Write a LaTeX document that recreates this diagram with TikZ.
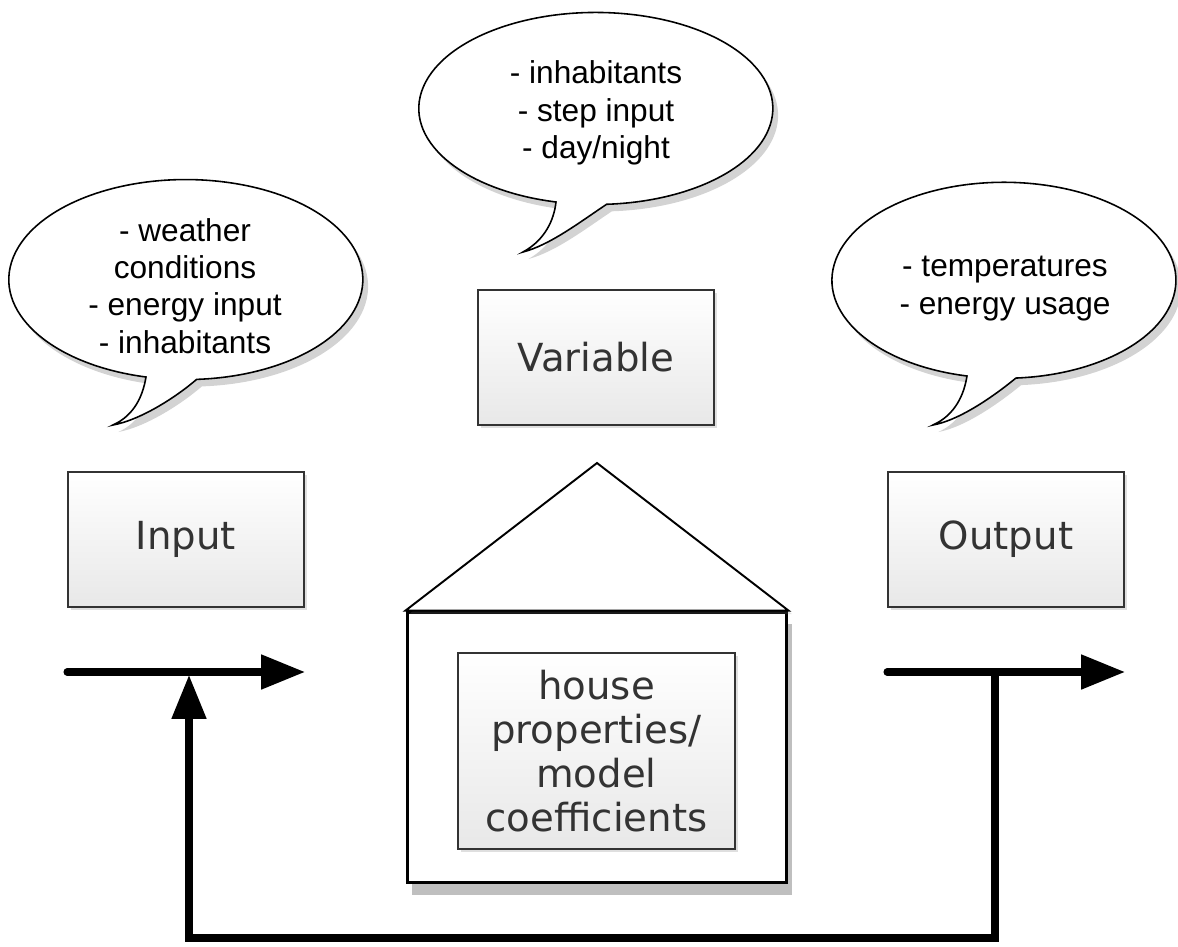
\documentclass[tikz,border=0pt]{standalone}
\usepackage{fontspec}
\usepackage{tikz}
\usetikzlibrary{
	arrows.meta,
	shadows
}
\newfontfamily\bubblefont{Liberation Sans}
\newfontfamily\boxfont{DejaVu Sans}

\begin{document}
\begin{tikzpicture}[
		x=0.02cm, y=-0.02cm,
		block/.style={draw=black!80, line width=1.1pt, top color=white, bottom color=black!9,
			minimum width=4.72cm, minimum height=2.7cm, text=black!80, align=center,
			font=\boxfont\fontsize{22}{25}\selectfont,
			drop shadow={opacity=.25, shadow xshift=1.5pt, shadow yshift=-1.5pt}},
		bubble/.style={draw, line width=0.9pt, fill=white,
			drop shadow={opacity=.35, shadow xshift=3pt, shadow yshift=-4pt}},
		bubbletext/.style={align=center, font=\bubblefont\fontsize{18}{21.2}\selectfont},
		flow/.style={line width=4pt, line cap=round, -{Triangle[length=25pt,width=19pt]}}
	]
	\useasboundingbox (0,0) rectangle (1178,947);

	% speech bubbles
	\draw[bubble] (146,377) arc[start angle=103, end angle=446.5, x radius=177, y radius=100]
		.. controls (175,398) and (140,420) .. (113,425)
		.. controls (135,415) and (143,395) .. (146,377) -- cycle;
	\draw[bubble] (556,202) arc[start angle=103, end angle=446.5, x radius=177, y radius=96]
		.. controls (580,222) and (550,245) .. (523,252)
		.. controls (545,240) and (554,220) .. (556,202) -- cycle;
	\draw[bubble] (967,376) arc[start angle=102.4, end angle=446, x radius=172, y radius=98]
		.. controls (994,396) and (960,420) .. (933,425)
		.. controls (955,415) and (964,395) .. (967,376) -- cycle;

	\node[bubbletext] (inlist)  at (185,286)   {- weather\\conditions\\- energy input\\- inhabitants};
	\node[bubbletext] (varlist) at (596,113)   {- inhabitants\\- step input\\- day/night};
	\node[bubbletext] (outlist) at (1005,288.5) {- temperatures\\- energy usage};

	% blocks
	\node[block] (variable) at (596,357.5)  {Variable};
	\node[block] (input)    at (186,539.5)  {Input};
	\node[block] (output)   at (1006,539.5) {Output};

	% house
	\node[draw, line width=1.7pt, fill=white, minimum width=7.6cm, minimum height=5.42cm,
		drop shadow={opacity=.5, shadow xshift=3pt, shadow yshift=-7pt}] (house)
		at (597,747.5) {};
	\coordinate (apex) at (597,463);
	\draw[line width=1.1pt, fill=white,
		drop shadow={opacity=.2, shadow xshift=2pt, shadow yshift=-2pt}]
		(house.north west) -- (apex) -- (house.north east) -- cycle;
	\node[block, minimum width=5.54cm, minimum height=3.92cm] (props) at (596.5,751)
		{house\\properties/\\model\\coefficients};

	% signal lines
	\coordinate (inStart)  at (67,672);
	\coordinate (inEnd)    at (305,672);
	\coordinate (outStart) at (887,672);
	\coordinate (outEnd)   at (1125,672);
	\coordinate (inJoin)   at (189,675);
	\coordinate (outJoin)  at (995,672);
	\coordinate (fbRight)  at (995,938);
	\coordinate (fbLeft)   at (189,938);

	\draw[flow] (inStart) -- (inEnd);
	\draw[flow] (outStart) -- (outEnd);
	\draw[flow, line cap=butt] (outJoin) -- (fbRight) -- (fbLeft) -- (inJoin);
\end{tikzpicture}
\end{document}
